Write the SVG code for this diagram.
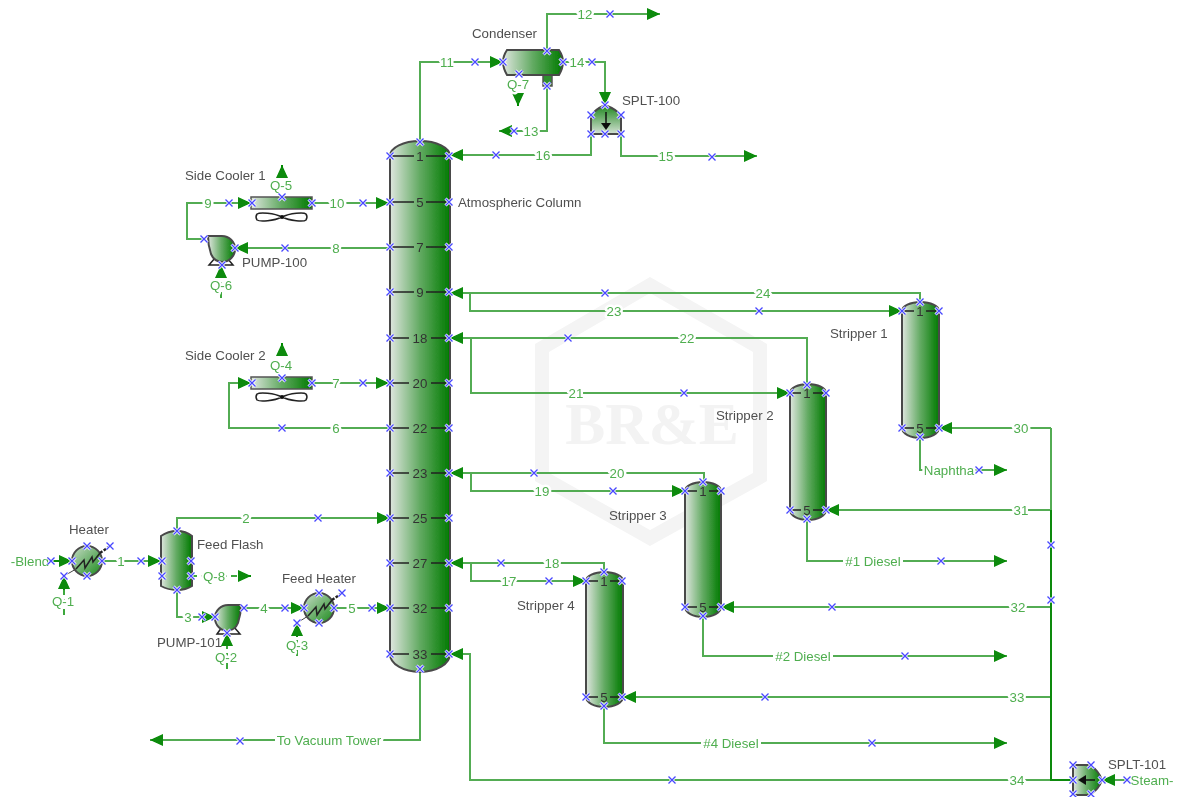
<svg xmlns="http://www.w3.org/2000/svg" xmlns:xlink="http://www.w3.org/1999/xlink" width="1177" height="797" viewBox="0 0 1177 797">
<style>
text{font-family:"Liberation Sans",Arial,sans-serif;font-size:13.3px}
.n{fill:#505050}
.l{fill:#4fae4f;text-anchor:middle;dominant-baseline:central;paint-order:stroke;stroke:#fff;stroke-width:5px;stroke-linejoin:round}
.bg{fill:#fff}
.t{fill:#333;text-anchor:middle;dominant-baseline:central}
.c{fill:none;stroke:#53ac53;stroke-width:2}
.d{fill:none;stroke:#078a07;stroke-width:2}
.a{marker-end:url(#ah)}
.q{fill:none;stroke:#3da83d;stroke-width:2;stroke-dasharray:6 4}
.o{stroke:#4a4a4a;stroke-width:2}
.tray{stroke:#222;stroke-width:1.6;fill:none}
.h{fill:url(#gh);stroke:#555;stroke-width:1.5}
.k{fill:none;stroke:#222;stroke-width:1.5}
.wm{fill:none;stroke:#f4f4f4;stroke-width:14}
</style>
<defs>
<linearGradient id="gh"><stop offset="0" stop-color="#dfe6df"/><stop offset=".5" stop-color="#62aa62"/><stop offset="1" stop-color="#007a00"/></linearGradient>
<linearGradient id="gv" x2="0" y2="1"><stop offset="0" stop-color="#1c861c"/><stop offset="1" stop-color="#d5e2d5"/></linearGradient>
<linearGradient id="gc" x1="0" y1="0" x2="1" y2="1"><stop offset="0" stop-color="#c9dcc9"/><stop offset="1" stop-color="#1a8a1a"/></linearGradient>
<marker id="ah" markerUnits="userSpaceOnUse" markerWidth="14" markerHeight="12" refX="13" refY="6" orient="auto"><path d="M0 0L13 6L0 12Z" fill="#078a07"/></marker>
<g id="x"><path d="M-3.5-3.5L3.5 3.5M-3.5 3.5L3.5-3.5" stroke="#fff" stroke-width="3"/><path d="M-3.5-3.5L3.5 3.5M-3.5 3.5L3.5-3.5" stroke="#4646ff" stroke-width="1.3"/></g>
<filter id="soft" x="0" y="0" width="100%" height="100%"><feGaussianBlur stdDeviation="0.4"/></filter>
</defs>
<rect width="1177" height="797" fill="#fff"/>
<g filter="url(#soft)">
<g id="watermark">
<path class="wm" d="M650 285L760 348V477L650 538L542 477V348Z"/>
<text x="652" y="444" text-anchor="middle" style="font-family:'Liberation Serif',serif;font-size:60px;font-weight:bold;fill:#f3f3f3">BR&amp;E</text>
</g>
<g id="connectors">
<path class="c a" d="M420 142V62H503"/>
<path class="c a" d="M547 50V14H660"/>
<path class="c a" d="M547 86V131H499"/>
<path class="c a" d="M563 62H605V105"/>
<path class="c a" d="M591 134V155H450"/>
<path class="c a" d="M621 134V156H757"/>
<path class="c a" d="M204 239H187V203H251"/>
<path class="c a" d="M312 203H389"/>
<path class="c a" d="M389 248H235"/>
<path class="c a" d="M389 428H229V383H251"/>
<path class="c a" d="M312 383H389"/>
<path class="d a" d="M12 561H72"/>
<path class="c a" d="M102 561H161"/>
<path class="c a" d="M177 531V518H390"/>
<path class="c a" d="M177 590V617H215"/>
<path class="c a" d="M244 608H304"/>
<path class="c a" d="M334 608H390"/>
<path class="c a" d="M420 672V740H150"/>
<path class="c a" d="M920 302V293H450"/>
<path class="c a" d="M470 293V311H902"/>
<path class="c a" d="M807 385V338H450"/>
<path class="c a" d="M471 338V393H790"/>
<path class="c a" d="M704 482V473H450"/>
<path class="c a" d="M471 473V491H685"/>
<path class="c a" d="M604 572V563H450"/>
<path class="c a" d="M471 563V581H586"/>
<path class="c a" d="M1072 780H470V654H450"/>
<path class="c a" d="M1051 428H939"/>
<path class="c a" d="M1051 510H826"/>
<path class="c a" d="M1051 607H721"/>
<path class="c a" d="M1051 697H623"/>
<path class="c" d="M1051 428V690"/>
<path class="d" d="M1051 510V780H1072"/>
<path class="c a" d="M920 437V470H1007"/>
<path class="c a" d="M807 521V561H1007"/>
<path class="c a" d="M703 617V656H1007"/>
<path class="c a" d="M604 707V743H1007"/>
<path class="c a" d="M1172 780H1102"/>
<path class="q" d="M191 576H240"/>
<path class="d a" d="M240 576H251"/>
<path class="q" d="M64 615V590"/>
<path class="d a" d="M64 590V576"/>
<path class="q" d="M227 669V645"/>
<path class="d a" d="M227 645V633"/>
<path class="q" d="M297 656V637"/>
<path class="d a" d="M297 637V623"/>
<path class="q" d="M221 298V278"/>
<path class="d a" d="M221 278V265"/>
<path class="d a" d="M282 176V165"/>
<path class="d a" d="M282 354V343"/>
<path class="d a" d="M518 95V106"/>
</g>
<g id="atmospheric-column">
<path class="o" fill="url(#gh)" d="M390 156A30 15 0 0 1 450 156V654A30 18 0 0 1 390 654Z"/>
<path class="tray" d="M390 156H414M426 156H450M390 202H414M426 202H450M390 247H414M426 247H450M390 292H414M426 292H450M390 338H409M431 338H450M390 383H409M431 383H450M390 428H409M431 428H450M390 473H409M431 473H450M390 518H409M431 518H450M390 563H409M431 563H450M390 608H409M431 608H450M390 654H409M431 654H450"/>
<text class="t" x="420" y="156">1</text><text class="t" x="420" y="202">5</text><text class="t" x="420" y="247">7</text><text class="t" x="420" y="292">9</text><text class="t" x="420" y="338">18</text><text class="t" x="420" y="383">20</text><text class="t" x="420" y="428">22</text><text class="t" x="420" y="473">23</text><text class="t" x="420" y="518">25</text><text class="t" x="420" y="563">27</text><text class="t" x="420" y="608">32</text><text class="t" x="420" y="654">33</text>
<text class="n" x="458" y="207">Atmospheric Column</text>
</g>
<g id="condenser">
<path class="h" d="M543 75H552V86H543Z" style="fill:#2f8f2f"/>
<path class="o" fill="url(#gh)" d="M507 50H559Q563 56 563 62T559 75H507Q503 68 503 62T507 50Z"/>
<text class="n" x="472" y="38">Condenser</text>
<text class="l" x="518" y="84">Q-7</text>
</g>
<g id="splt-100">
<path class="o" fill="url(#gv)" d="M591 134V116Q594 110 605 105Q618 110 621 116V134Z"/>
<path d="M606 112V124" stroke="#111" stroke-width="1.5"/><path d="M601 123H611L606 130Z" fill="#111"/>
<text class="n" x="622" y="105">SPLT-100</text>
</g>
<g id="side-cooler-1">
<rect class="h" x="251" y="197" width="61" height="12"/>
<path class="k" d="M282 217C274 213 260 212 257 214Q255 217 257 220C260 222 274 221 282 217C290 213 304 212 306 214Q308 217 306 220C304 222 290 221 282 217Z"/><circle cx="282" cy="217" r="2" fill="#111"/>
<text class="n" x="185" y="180">Side Cooler 1</text>
<text class="l" x="281" y="185">Q-5</text>
</g>
<g id="side-cooler-2">
<rect class="h" x="251" y="377" width="61" height="12"/>
<path class="k" d="M282 397C274 393 260 392 257 394Q255 397 257 400C260 402 274 401 282 397C290 393 304 392 306 394Q308 397 306 400C304 402 290 401 282 397Z"/><circle cx="282" cy="397" r="2" fill="#111"/>
<text class="n" x="185" y="360">Side Cooler 2</text>
<text class="l" x="281" y="365">Q-4</text>
</g>
<g id="pump-100">
<path class="k" d="M215 258L209 265H233L227 258"/>
<path class="o" fill="url(#gh)" d="M208 236H222A13 13 0 0 1 222 262A13 13 0 0 1 211 254Q208 245 208 236Z"/>
<text class="n" x="242" y="267">PUMP-100</text>
<text class="l" x="221" y="285">Q-6</text>
</g>
<g id="heater">
<circle class="o" fill="url(#gc)" cx="87" cy="561" r="15"/>
<path d="M76 569L84 560L85 568L92 557L93 562L100 553" class="k"/>
<path d="M64 576L76 569" stroke="#444" stroke-width="1"/><path d="M100 553L110 546" stroke="#222" stroke-width="2.4" stroke-dasharray="3 1.5"/>
<text class="n" x="69" y="534">Heater</text>
<text class="l" x="63" y="601">Q-1</text>
</g>
<g id="feed-flash">
<path class="o" fill="url(#gh)" d="M161 536Q168 531 177 531Q186 531 192 536V586Q186 590 177 590Q168 590 161 586Z"/>
<text class="n" x="197" y="549">Feed Flash</text>
<text class="l" x="214" y="576">Q-8</text>
</g>
<g id="pump-101">
<path class="k" d="M222 627L217 634H240L234 627"/>
<path class="o" fill="url(#gh)" d="M241 605H228A13 13 0 0 0 228 631A13 13 0 0 0 238 623Q241 614 241 605Z"/>
<text class="n" x="157" y="647">PUMP-101</text>
<text class="l" x="226" y="657">Q-2</text>
</g>
<g id="feed-heater">
<circle class="o" fill="url(#gc)" cx="319" cy="608" r="15"/>
<path d="M308 616L316 607L317 615L324 604L325 609L332 600" class="k"/>
<path d="M297 623L308 616" stroke="#444" stroke-width="1"/><path d="M332 600L342 593" stroke="#222" stroke-width="2.4" stroke-dasharray="3 1.5"/>
<text class="n" x="282" y="583">Feed Heater</text>
<text class="l" x="297" y="645">Q-3</text>
</g>
<g id="stripper-1">
<path class="o" fill="url(#gh)" stroke="#111" d="M902 311A18.5 9 0 0 1 939 311V428A18.5 10 0 0 1 902 428Z"/>
<path class="tray" d="M902 311H914M926 311H939M902 428H914M926 428H939"/>
<text class="t" x="920" y="311">1</text><text class="t" x="920" y="428">5</text>
<text class="n" x="830" y="338">Stripper 1</text>
</g>
<g id="stripper-2">
<path class="o" fill="url(#gh)" d="M790 393A18 9 0 0 1 826 393V510A18 10 0 0 1 790 510Z"/>
<path class="tray" d="M790 393H801M813 393H826M790 510H801M813 510H826"/>
<text class="t" x="807" y="393">1</text><text class="t" x="807" y="510">5</text>
<text class="n" x="716" y="420">Stripper 2</text>
</g>
<g id="stripper-3">
<path class="o" fill="url(#gh)" d="M685 491A18 9 0 0 1 721 491V607A18 10 0 0 1 685 607Z"/>
<path class="tray" d="M685 491H697M709 491H721M685 607H697M709 607H721"/>
<text class="t" x="703" y="491">1</text><text class="t" x="703" y="607">5</text>
<text class="n" x="609" y="520">Stripper 3</text>
</g>
<g id="stripper-4">
<path class="o" fill="url(#gh)" d="M586 581A18.5 9 0 0 1 623 581V697A18.5 10 0 0 1 586 697Z"/>
<path class="tray" d="M586 581H598M610 581H623M586 697H598M610 697H623"/>
<text class="t" x="604" y="581">1</text><text class="t" x="604" y="697">5</text>
<text class="n" x="517" y="610">Stripper 4</text>
</g>
<g id="splt-101">
<path class="o" fill="url(#gh)" d="M1073 765H1090Q1099 771 1102 780Q1099 789 1090 795H1073Z"/>
<path d="M1095 780H1085" stroke="#111" stroke-width="1.5"/><path d="M1086 775V785L1078 780Z" fill="#111"/>
<text class="n" x="1108" y="769">SPLT-101</text>
</g>
<g id="labels">
<rect class="bg" x="275" y="733" width="108" height="14"/><rect class="bg" x="843" y="554" width="60" height="14"/><rect class="bg" x="773" y="649" width="60" height="14"/><rect class="bg" x="701" y="736" width="60" height="14"/>
<text class="l" x="447" y="62">11</text><text class="l" x="585" y="14">12</text><text class="l" x="531" y="131">13</text><text class="l" x="577" y="62">14</text><text class="l" x="666" y="156">15</text><text class="l" x="543" y="155">16</text>
<text class="l" x="208" y="203">9</text><text class="l" x="337" y="203">10</text><text class="l" x="336" y="248">8</text><text class="l" x="336" y="383">7</text><text class="l" x="336" y="428">6</text>
<text class="l" x="30" y="561">-Blend</text><text class="l" x="121" y="561">1</text><text class="l" x="246" y="518">2</text><text class="l" x="188" y="617">3</text><text class="l" x="264" y="608">4</text><text class="l" x="352" y="608">5</text>
<text class="l" x="329" y="740">To Vacuum Tower</text>
<text class="l" x="763" y="293">24</text><text class="l" x="614" y="311">23</text><text class="l" x="687" y="338">22</text><text class="l" x="576" y="393">21</text><text class="l" x="617" y="473">20</text><text class="l" x="542" y="491">19</text><text class="l" x="552" y="563">18</text><text class="l" x="509" y="581">17</text>
<text class="l" x="1021" y="428">30</text><text class="l" x="1021" y="510">31</text><text class="l" x="1018" y="607">32</text><text class="l" x="1017" y="697">33</text><text class="l" x="1017" y="780">34</text>
<text class="l" x="949" y="470">Naphtha</text><text class="l" x="873" y="561">#1 Diesel</text><text class="l" x="803" y="656">#2 Diesel</text><text class="l" x="731" y="743">#4 Diesel</text>
<text class="l" x="1152" y="780">Steam-</text>
</g>
<g id="ports">
<use href="#x" x="420" y="142"/><use href="#x" x="390" y="156"/><use href="#x" x="449" y="156"/><use href="#x" x="390" y="202"/><use href="#x" x="449" y="202"/><use href="#x" x="390" y="247"/><use href="#x" x="449" y="247"/><use href="#x" x="390" y="292"/><use href="#x" x="449" y="292"/><use href="#x" x="390" y="338"/><use href="#x" x="449" y="338"/><use href="#x" x="390" y="383"/><use href="#x" x="449" y="383"/><use href="#x" x="390" y="428"/><use href="#x" x="449" y="428"/><use href="#x" x="390" y="473"/><use href="#x" x="449" y="473"/><use href="#x" x="390" y="518"/><use href="#x" x="449" y="518"/><use href="#x" x="390" y="563"/><use href="#x" x="449" y="563"/><use href="#x" x="390" y="608"/><use href="#x" x="449" y="608"/><use href="#x" x="390" y="654"/><use href="#x" x="449" y="654"/><use href="#x" x="420" y="669"/>
<use href="#x" x="475" y="62"/><use href="#x" x="503" y="62"/><use href="#x" x="547" y="51"/><use href="#x" x="563" y="62"/><use href="#x" x="519" y="74"/><use href="#x" x="547" y="86"/><use href="#x" x="610" y="14"/><use href="#x" x="514" y="131"/><use href="#x" x="592" y="62"/>
<use href="#x" x="605" y="105"/><use href="#x" x="591" y="115"/><use href="#x" x="621" y="115"/><use href="#x" x="591" y="134"/><use href="#x" x="605" y="134"/><use href="#x" x="621" y="134"/><use href="#x" x="496" y="155"/><use href="#x" x="712" y="157"/>
<use href="#x" x="229" y="203"/><use href="#x" x="252" y="203"/><use href="#x" x="282" y="197"/><use href="#x" x="312" y="203"/><use href="#x" x="363" y="203"/><use href="#x" x="204" y="239"/><use href="#x" x="235" y="248"/><use href="#x" x="285" y="248"/><use href="#x" x="222" y="265"/>
<use href="#x" x="252" y="383"/><use href="#x" x="282" y="378"/><use href="#x" x="312" y="383"/><use href="#x" x="363" y="383"/><use href="#x" x="282" y="428"/>
<use href="#x" x="51" y="561"/><use href="#x" x="72" y="561"/><use href="#x" x="87" y="546"/><use href="#x" x="102" y="561"/><use href="#x" x="87" y="576"/><use href="#x" x="110" y="546"/><use href="#x" x="64" y="576"/><use href="#x" x="141" y="561"/>
<use href="#x" x="177" y="531"/><use href="#x" x="162" y="561"/><use href="#x" x="191" y="561"/><use href="#x" x="162" y="576"/><use href="#x" x="191" y="576"/><use href="#x" x="177" y="590"/><use href="#x" x="318" y="518"/>
<use href="#x" x="202" y="617"/><use href="#x" x="215" y="617"/><use href="#x" x="244" y="608"/><use href="#x" x="227" y="633"/><use href="#x" x="285" y="608"/>
<use href="#x" x="304" y="608"/><use href="#x" x="319" y="593"/><use href="#x" x="334" y="608"/><use href="#x" x="319" y="623"/><use href="#x" x="342" y="593"/><use href="#x" x="297" y="623"/><use href="#x" x="372" y="608"/><use href="#x" x="240" y="741"/>
<use href="#x" x="605" y="293"/><use href="#x" x="759" y="311"/><use href="#x" x="568" y="338"/><use href="#x" x="684" y="393"/><use href="#x" x="534" y="473"/><use href="#x" x="613" y="491"/><use href="#x" x="501" y="563"/><use href="#x" x="549" y="581"/><use href="#x" x="672" y="780"/>
<use href="#x" x="902" y="311"/><use href="#x" x="920" y="302"/><use href="#x" x="939" y="311"/><use href="#x" x="902" y="428"/><use href="#x" x="939" y="428"/><use href="#x" x="920" y="437"/><use href="#x" x="979" y="470"/>
<use href="#x" x="790" y="393"/><use href="#x" x="807" y="385"/><use href="#x" x="826" y="393"/><use href="#x" x="790" y="510"/><use href="#x" x="826" y="510"/><use href="#x" x="807" y="519"/><use href="#x" x="941" y="561"/>
<use href="#x" x="685" y="491"/><use href="#x" x="703" y="482"/><use href="#x" x="721" y="491"/><use href="#x" x="685" y="607"/><use href="#x" x="721" y="607"/><use href="#x" x="703" y="616"/><use href="#x" x="905" y="656"/><use href="#x" x="832" y="607"/>
<use href="#x" x="586" y="581"/><use href="#x" x="604" y="572"/><use href="#x" x="622" y="581"/><use href="#x" x="586" y="697"/><use href="#x" x="622" y="697"/><use href="#x" x="604" y="706"/><use href="#x" x="872" y="743"/><use href="#x" x="765" y="697"/>
<use href="#x" x="1051" y="545"/><use href="#x" x="1051" y="600"/>
<use href="#x" x="1073" y="765"/><use href="#x" x="1091" y="765"/><use href="#x" x="1073" y="780"/><use href="#x" x="1102" y="780"/><use href="#x" x="1073" y="794"/><use href="#x" x="1091" y="794"/><use href="#x" x="1127" y="780"/>
</g>
</g>
</svg>
